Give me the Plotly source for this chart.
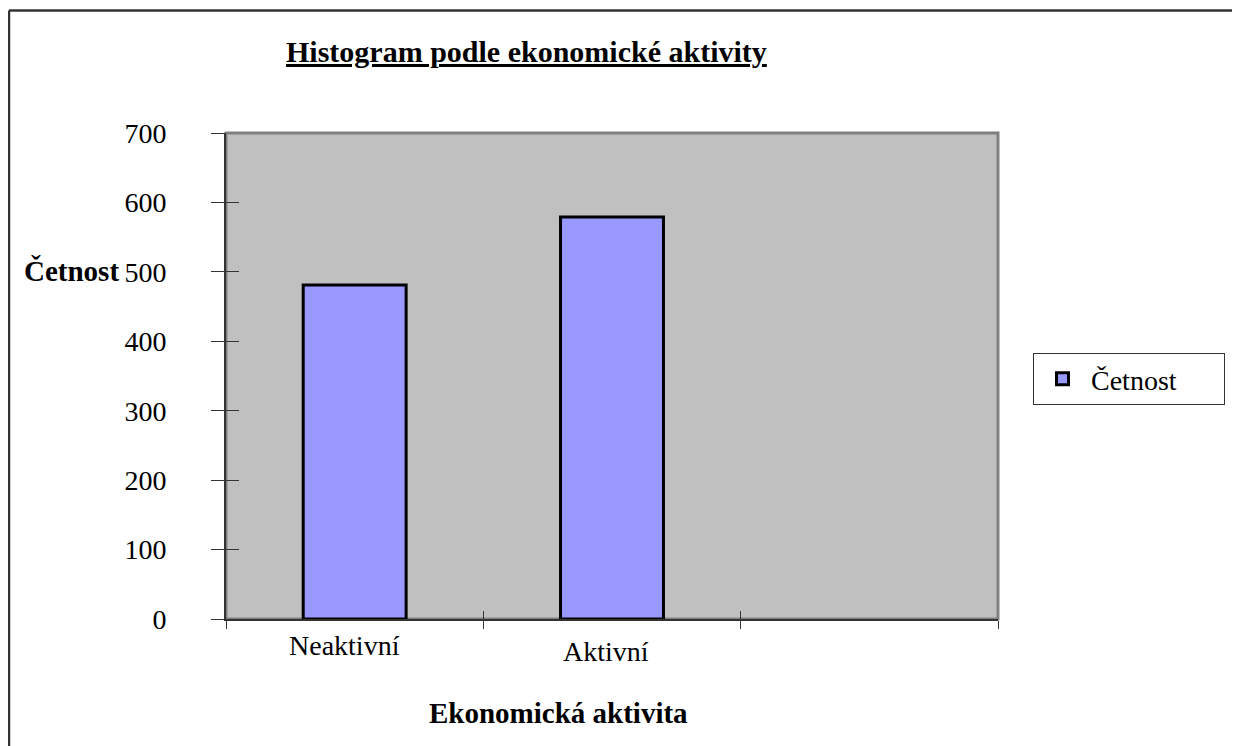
import plotly.graph_objects as go

categories = ["Neaktivní", "Aktivní"]
values = [481, 579]
series_name = "Četnost"
y_ticks = [0, 100, 200, 300, 400, 500, 600, 700]
title_text = "Histogram podle ekonomické aktivity"
x_title = "Ekonomická aktivita"
y_title = "Četnost"
n_slots = 3  # category slots on the axis (third is empty)

# page has an 8px body margin, so the figure is shrunk accordingly
OFF = 8
W, H = 1240 - OFF, 746 - OFF
L, R, T, B = 226 - OFF, 242, 133 - OFF, 127
pw, ph = W - L - R, H - T - B

def px(xp):  # screen x in reference -> paper
    return (xp - OFF - L) / pw

def py(yp):  # screen y in reference -> paper
    return (H - B - (yp - OFF)) / ph

FONT = "Liberation Serif"
DARK = "#333333"

xs = list(range(len(categories)))
bounds = [i - 0.5 for i in range(n_slots + 1)]

fig = go.Figure()
fig.add_trace(go.Bar(
    x=xs, y=values, name=series_name, width=0.4,
    marker=dict(color="#9999FF", line=dict(color="#000000", width=3)),
    showlegend=True,
))
# invisible trace to activate overlay axes (inner half of crossing ticks)
fig.add_trace(go.Scatter(x=[bounds[0]], y=[0], xaxis="x2", yaxis="y2",
                         mode="markers", marker=dict(opacity=0), showlegend=False,
                         hoverinfo="skip"))

fig.update_layout(
    width=W, height=H,
    margin=dict(l=L, r=R, t=T, b=B, pad=0, autoexpand=False),
    paper_bgcolor="white",
    plot_bgcolor="#C0C0C0",
    font=dict(family=FONT, size=28, color="black"),
    xaxis=dict(range=[bounds[0], bounds[-1]], tickmode="array", tickvals=bounds,
               ticktext=["" for _ in bounds], showgrid=False, zeroline=False,
               showline=True, linecolor=DARK, linewidth=2,
               ticks="outside", ticklen=8, tickcolor=DARK, tickwidth=1),
    yaxis=dict(range=[0, 700], tickmode="array", tickvals=y_ticks,
               ticktext=[str(v) for v in y_ticks], showgrid=False, zeroline=False,
               showline=True, linecolor=DARK, linewidth=2,
               ticks="outside", ticklen=13, tickcolor=DARK, tickwidth=1,
               ticklabelstandoff=39, tickfont=dict(size=28)),
    xaxis2=dict(overlaying="x", side="bottom", range=[bounds[0], bounds[-1]],
                tickmode="array", tickvals=bounds, showticklabels=False,
                showgrid=False, zeroline=False, showline=False,
                ticks="inside", ticklen=8, tickcolor=DARK, tickwidth=1),
    yaxis2=dict(overlaying="y", side="left", range=[0, 700],
                tickmode="array", tickvals=y_ticks, showticklabels=False,
                showgrid=False, zeroline=False, showline=False,
                ticks="inside", ticklen=13, tickcolor=DARK, tickwidth=1),
    legend=dict(x=px(1033), y=py(353), xanchor="left", yanchor="top",
                orientation="h", entrywidth=128, itemwidth=47,
                bgcolor="white", bordercolor=DARK, borderwidth=1,
                font=dict(family=FONT, size=28)),
    bargap=0.6,
)

# plot area border (gray)
fig.add_shape(type="rect", xref="paper", yref="paper", x0=0, y0=0, x1=1, y1=1,
              line=dict(color="#808080", width=3), layer="below")
# outer chart frame (left and top edges visible)
fig.add_shape(type="line", xref="paper", yref="paper",
              x0=px(9), x1=px(9), y0=py(10.5), y1=py(760),
              line=dict(color=DARK, width=2.5))
fig.add_shape(type="line", xref="paper", yref="paper",
              x0=px(9), x1=px(1260), y0=py(10.5), y1=py(10.5),
              line=dict(color=DARK, width=2.5))

# title
fig.add_annotation(text="<b><u>" + title_text + "</u></b>", xref="paper", yref="paper",
                   x=px(526), y=py(52), xanchor="center", yanchor="middle",
                   showarrow=False, font=dict(family=FONT, size=30))
# y title
fig.add_annotation(text="<b>" + y_title + "</b>", xref="paper", yref="paper",
                   x=px(22), y=py(271), xanchor="left", yanchor="middle",
                   showarrow=False, font=dict(family=FONT, size=29))
# x title
fig.add_annotation(text="<b>" + x_title + "</b>", xref="paper", yref="paper",
                   x=px(558), y=py(713), xanchor="center", yanchor="middle",
                   showarrow=False, font=dict(family=FONT, size=29))
# category labels (slightly staggered as in the original)
label_offsets = [(-10, 645), (-6, 651)]
for i, cat in enumerate(categories):
    dx, ycen = label_offsets[i]
    fig.add_annotation(text=cat, xref="x", yref="paper", x=xs[i], y=py(ycen),
                       xshift=dx, xanchor="center", yanchor="middle",
                       showarrow=False, font=dict(family=FONT, size=28))

fig.write_html("out.html")
